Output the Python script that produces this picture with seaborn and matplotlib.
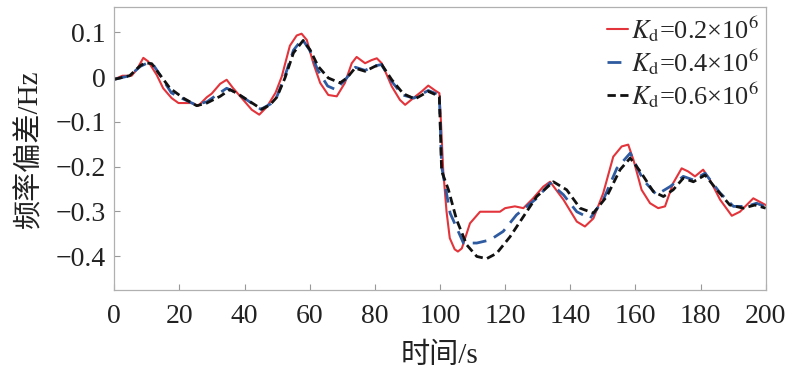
import numpy as np
import pandas as pd
import matplotlib
matplotlib.use("Agg")
import matplotlib.pyplot as plt
import seaborn as sns

# 曲线数据
t_02 = [0, 2.5, 5.3, 7, 8.9, 10.4, 13, 15, 17.6, 19.7, 23.8, 25.8, 28.4, 29.9, 32.5,
        34.5, 36.5, 39.6, 42.2, 44.5, 46.8, 49.5, 51.4, 53.9, 56, 57.5, 59.1, 61.1,
        63.2, 65.7, 68.3, 70.8, 72.9, 74.4, 77, 79, 80.6, 82.1, 85.2, 87.7, 89.3,
        91.8, 94.4, 96.4, 98.5, 99.8, 100.3, 101, 102, 103, 104.5, 105.5, 106.7,
        109.2, 112.3, 115.4, 118.4, 120, 123, 125.6, 128.6, 131.7, 133.8, 137.9,
        142, 144.5, 147.1, 150.1, 153.2, 155.8, 157.8, 159.4, 161.9, 164.5, 167,
        169.1, 171.6, 174.2, 176.2, 178.3, 180.8, 182.9, 186, 189.6, 192.1, 196.2, 200]
v_02 = [-0.005, 0.003, 0.003, 0.018, 0.043, 0.035, 0.005, -0.025, -0.047, -0.058,
        -0.058, -0.064, -0.045, -0.037, -0.015, -0.006, -0.025, -0.051, -0.073, -0.084,
        -0.067, -0.035, 0.001, 0.070, 0.093, 0.097, 0.083, 0.031, -0.013, -0.040,
        -0.043, -0.013, 0.031, 0.045, 0.031, 0.038, 0.042, 0.031, -0.021, -0.051,
        -0.062, -0.047, -0.032, -0.019, -0.030, -0.036, -0.10, -0.21, -0.30, -0.36,
        -0.385, -0.390, -0.383, -0.327, -0.301, -0.301, -0.301, -0.293, -0.289,
        -0.293, -0.271, -0.245, -0.234, -0.274, -0.323, -0.334, -0.316, -0.260,
        -0.178, -0.155, -0.151, -0.185, -0.252, -0.282, -0.293, -0.289, -0.237,
        -0.204, -0.211, -0.222, -0.207, -0.230, -0.274, -0.310, -0.301, -0.271, -0.286]

t_04 = [0, 4.7, 8, 10, 12, 14, 17.5, 20, 25, 28.5, 32, 34.5, 37, 41.5, 45, 48, 50,
        52.5, 55, 57.7, 60, 62.5, 65.5, 68, 71, 74, 77, 80, 82, 85.2, 88.5, 92, 96.4,
        99.8, 100.5, 103.1, 107.2, 111.3, 115.4, 119.4, 123.5, 129.7, 133.8, 137.9,
        142, 146.1, 150.1, 154.3, 158.4, 162.4, 166.5, 170.6, 174.7, 177.8, 181.4,
        186, 190.1, 194.2, 197.2, 200]
v_04 = [-0.005, 0.003, 0.024, 0.031, 0.027, 0.005, -0.035, -0.045, -0.062, -0.055,
        -0.037, -0.025, -0.033, -0.055, -0.072, -0.060, -0.042, 0.005, 0.060, 0.085,
        0.060, 0.015, -0.020, -0.028, -0.005, 0.022, 0.015, 0.025, 0.028, -0.010,
        -0.040, -0.047, -0.030, -0.040, -0.20, -0.304, -0.371, -0.371, -0.364, -0.345,
        -0.308, -0.271, -0.237, -0.263, -0.301, -0.316, -0.275, -0.204, -0.170,
        -0.230, -0.263, -0.245, -0.222, -0.230, -0.215, -0.259, -0.289, -0.289,
        -0.282, -0.290]

t_06 = [0, 4.7, 7.9, 9.4, 11.5, 13.5, 17.1, 21.2, 25.3, 28.4, 32.5, 35.5, 37.6, 41.7,
        45.3, 47.8, 49.9, 52.4, 55, 58, 60.1, 62.6, 65.7, 69.3, 71.4, 73.9, 77, 80,
        82.1, 85.2, 88.7, 92.3, 96.4, 99.8, 100.5, 102.6, 105.1, 108.2, 111.3, 114.3,
        117.4, 121.5, 125.6, 129.7, 134.8, 138.9, 143, 147.1, 151.2, 155.3, 158.4,
        161.5, 165.5, 168.6, 171.6, 174.7, 177.8, 181.4, 185, 189, 193.1, 196.7, 200]
v_06 = [-0.005, 0.003, 0.025, 0.032, 0.030, 0.010, -0.025, -0.047, -0.064, -0.058,
        -0.043, -0.028, -0.036, -0.055, -0.072, -0.062, -0.045, -0.002, 0.054, 0.082,
        0.061, 0.024, -0.002, -0.013, -0.002, 0.020, 0.013, 0.024, 0.028, -0.006,
        -0.037, -0.049, -0.032, -0.043, -0.21, -0.252, -0.319, -0.375, -0.401, -0.406,
        -0.394, -0.357, -0.312, -0.267, -0.234, -0.252, -0.293, -0.304, -0.267,
        -0.207, -0.181, -0.211, -0.256, -0.267, -0.252, -0.226, -0.234, -0.219,
        -0.252, -0.286, -0.293, -0.286, -0.293]

labels = [r'$K_{\mathrm{d}}$=0.2×10$^{6}$',
          r'$K_{\mathrm{d}}$=0.4×10$^{6}$',
          r'$K_{\mathrm{d}}$=0.6×10$^{6}$']
x_ticks = [0, 20, 40, 60, 80, 100, 120, 140, 160, 180, 200]
y_ticks = [0.1, 0, -0.1, -0.2, -0.3, -0.4]

sns.set_theme(style="white")
plt.rcParams['font.family'] = ['Liberation Serif', 'Noto Sans CJK SC']
plt.rcParams['mathtext.fontset'] = 'stix'
plt.rcParams['axes.unicode_minus'] = True

fig = plt.figure(figsize=(7.95, 3.73), dpi=100)
ax = fig.add_axes([0.1438, 0.2225, 0.8193, 0.7579])

sns.lineplot(x=t_02, y=v_02, ax=ax, color='#e2343a', linewidth=1.5, label=labels[0])
sns.lineplot(x=t_04, y=v_04, ax=ax, color='#2e5aa0', linewidth=2.0,
             linestyle=(0, (5, 3)), label=labels[1])
sns.lineplot(x=t_06, y=v_06, ax=ax, color='#111111', linewidth=2.0,
             linestyle=(0, (3, 1.6)), label=labels[2])

ax.set_xlim(0, 200)
ax.set_ylim(-0.476, 0.156)
ax.set_xticks(x_ticks)
ax.set_yticks(y_ticks)
ax.set_xticklabels([str(v) for v in x_ticks])
ax.set_yticklabels(['0.1', '0', '−0.1', '−0.2', '−0.3', '−0.4'])
ax.tick_params(direction='in', length=4, width=0.8, color='#999999',
               labelsize=20, labelcolor='#222222', pad=6,
               bottom=True, left=True)
ax.tick_params(axis='x', pad=10)
for s in ax.spines.values():
    s.set_color('#b0b0b0')
    s.set_linewidth(0.9)

ax.set_xlabel('时间/s', fontsize=21, color='#222222', labelpad=10)
ax.set_ylabel('频率偏差/Hz', fontsize=21, color='#222222', labelpad=9)

leg = ax.legend(loc='upper right', frameon=False, fontsize=19, handlelength=0.8,
                handletextpad=0.1, labelspacing=0.12, borderaxespad=0.05,
                borderpad=0.2)

fig.savefig('out.png', dpi=100)
